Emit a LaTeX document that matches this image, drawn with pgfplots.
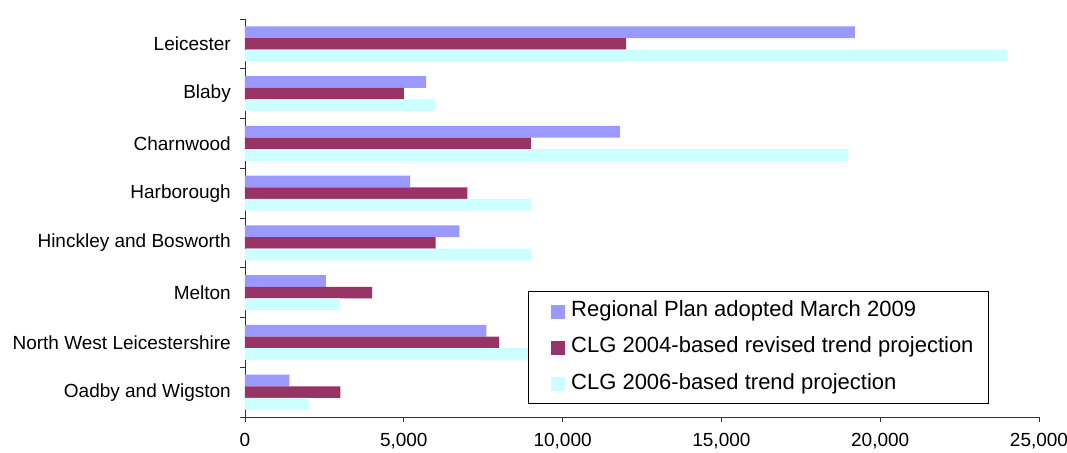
\documentclass[border=0pt]{standalone}
\usepackage{fontspec}
\setmainfont{Liberation Sans}
\usepackage{pgfplots}
\usepackage{pgfplotstable}
\pgfplotsset{compat=1.18}

\definecolor{planblue}{HTML}{9999FF}
\definecolor{clgmaroon}{HTML}{993366}
\definecolor{clgcyan}{HTML}{CCFFFF}

% Housing provision by district (dwellings)
\pgfplotstableread{
idx plan rev04 trend06
0 19200 12000 24000
1 5700 5000 6000
2 11800 9000 19000
3 5200 7000 9000
4 6750 6000 9000
5 2550 4000 3000
6 7600 8000 9000
7 1400 3000 2000
}\housing

\begin{document}
\begin{tikzpicture}
\begin{axis}[
  name=ax,
  scale only axis,
  width=794bp, height=398bp,
  xmin=0, xmax=25000,
  ymin=-0.5, ymax=7.5,
  y dir=reverse,
  xbar, bar width=0.2345,
  axis x line*=bottom, axis y line*=left,
  axis line style={draw=black!80, line width=0.9bp},
  tick style={draw=black!80, line width=0.9bp},
  tick align=outside,
  major tick length=5bp,
  xtick={0,5000,...,25000},
  scaled x ticks=false,
  /pgf/number format/assume math mode=true,
  /pgf/number format/1000 sep={,},
  ytick={-0.5,0.5,...,7.5},
  yticklabels={},
  extra y ticks={0,...,7},
  extra y tick labels={Leicester, Blaby, Charnwood, Harborough, Hinckley and Bosworth, Melton, North West Leicestershire, Oadby and Wigston},
  extra y tick style={tick style={draw=none}},
  tick label style={font=\fontsize{19bp}{22bp}\selectfont},
  yticklabel style={anchor=east, inner sep=0pt, xshift=-9bp},
  xticklabel style={anchor=north, inner sep=0pt, yshift=-11bp},
  legend style={
    at={(0.3568,0.3173)}, anchor=north west,
    draw=black, line width=0.8bp,
    inner xsep=14.5bp, inner ysep=9bp,
    row sep=14.2bp, column sep=6bp,
    font=\fontsize{22bp}{26bp}\selectfont,
    nodes={text height=16.5bp, text depth=5.5bp, inner sep=0pt},
  },
  legend cell align=left,
  legend image code/.code={%
    \path (0bp,0bp);
    \fill[#1] (8bp,-7.5bp) rectangle (22bp,6.5bp);
  },
]
\addplot[fill=planblue, draw=none, bar shift=-0.2345] table[x=plan, y=idx] {\housing};
\addplot[fill=clgmaroon, draw=none, bar shift=0] table[x=rev04, y=idx] {\housing};
\addplot[fill=clgcyan, draw=none, bar shift=0.2345] table[x=trend06, y=idx] {\housing};
\legend{Regional Plan adopted March 2009, CLG 2004-based revised trend projection, CLG 2006-based trend projection}
\end{axis}
\pgfresetboundingbox
\useasboundingbox ([xshift=-245bp,yshift=-36bp]ax.south west) rectangle ([xshift=28bp,yshift=19bp]ax.north east);
\end{tikzpicture}
\end{document}
